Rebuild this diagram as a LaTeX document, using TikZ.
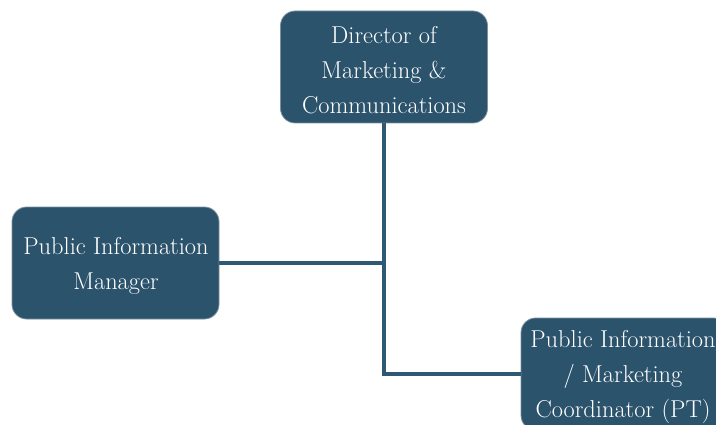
\documentclass[tikz,border=0pt]{standalone}
\definecolor{boxfill}{RGB}{44,83,108}
\definecolor{boxedge}{RGB}{125,145,160}
\definecolor{linkcol}{RGB}{46,88,116}
\tikzset{
  orgbox/.style={rectangle, rounded corners=11pt, fill=boxfill, draw=boxedge, line width=0.6pt,
    minimum width=155.25pt, minimum height=84pt, inner sep=0pt, text=white, align=center,
    font=\fontsize{18.3}{26.5}\selectfont},
  link/.style={draw=linkcol, line width=3pt}
}
\begin{document}
\begin{tikzpicture}[x=0.75pt,y=-0.75pt]
\useasboundingbox (0,0) rectangle (716,424);
\clip (0,0) rectangle (716,424);
\fill[white] (0,0) rectangle (716,424);
\node[orgbox] (dir) at (384,67) {};
\node[orgbox] (pim) at (115.5,263) {};
\node[orgbox] (pic) at (624.5,374) {};
\node[text=white, align=center, font=\fontsize{18.3}{26.5}\selectfont] (dirt) at (384,70) {Director of\\Marketing \&\\Communications};
\node[text=white, align=center, font=\fontsize{18.3}{26.5}\selectfont] (pimt) at (116,266) {Public Information\\Manager};
\node[text=white, align=center, font=\fontsize{18.3}{26.5}\selectfont] (pict) at (623,377) {Public Information\\/ Marketing\\Coordinator (PT)};
\draw[link] (dir.south) -- (dir.south |- pic.west) -- (pic.west);
\draw[link] (pim.east) -- (pim.east -| dir.south);
\end{tikzpicture}
\end{document}
